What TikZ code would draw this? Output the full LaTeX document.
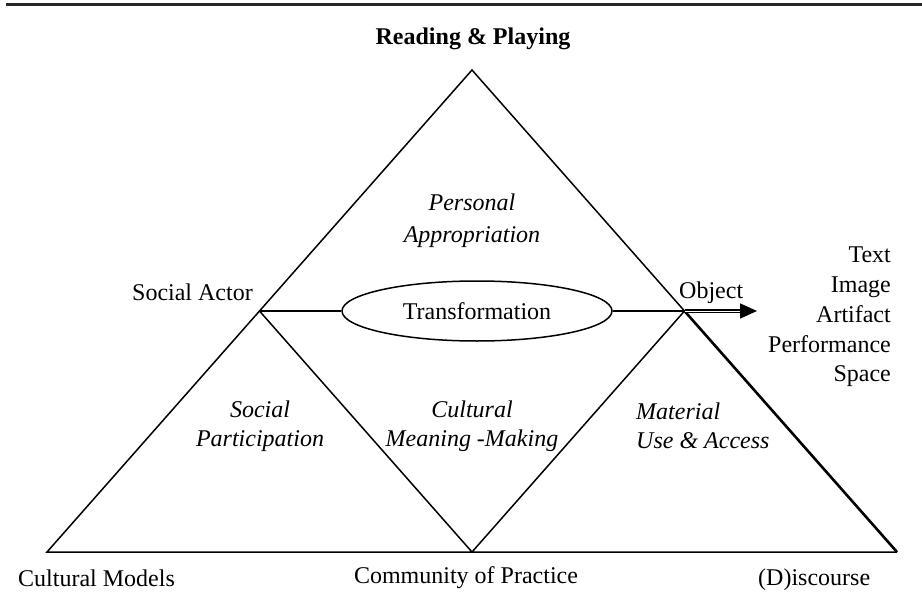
\documentclass[tikz,border=0pt]{standalone}
\usepackage{fontspec}
\setmainfont{Liberation Serif}
\usetikzlibrary{shapes,arrows.meta,positioning}
\tikzstyle{l1}=[line width=1.5pt]
\tikzstyle{l2}=[line width=2.6pt]
\tikzstyle{lbl}=[inner sep=0pt, font=\fontsize{24}{29.7}\selectfont]
\tikzstyle{ilbl}=[inner sep=0pt, align=center, font=\fontsize{24}{29}\selectfont\itshape]

\begin{document}
\begin{tikzpicture}[x=1pt, y=-1pt]
    \useasboundingbox (0,0) rectangle (922,610);
    \draw[line width=3pt, black!85] (6,5) -- (922,5);

    % corners of the big triangle and the side midpoints
    \coordinate (top) at (472,70);
    \coordinate (bl) at (47,552);
    \coordinate (br) at (897,552);
    \coordinate (bm) at (472,552);
    \coordinate (ml) at (259.5,311);
    \coordinate (mr) at (684.5,311);
    \coordinate (aend) at (757,311);

    \node[ellipse, draw, l1, minimum width=270, minimum height=60, lbl] (tr) at (477,311) {Transformation};

    \draw[l1] (ml) -- (top) -- (mr);
    \draw[l1] (mr) -- (bm) -- (ml) -- (bl) -- (br);
    \draw[l2] (mr) -- (br);
    \draw[l1] (ml) -- (tr) -- (mr);
    \draw[line width=1.6pt, double, double distance=0.7pt, -{Triangle[length=17pt,width=15pt]}] (mr) -- (aend);

    \node[lbl, font=\fontsize{24}{29}\selectfont\bfseries] (title) at (473,39) {Reading \& Playing};
    \node[ilbl, font=\fontsize{24}{32}\selectfont\itshape] (pers) at (472,221) {Personal\\Appropriation};
    \node[lbl, anchor=east] (actor) at (253,292) {Social Actor};
    \node[lbl, anchor=west] (obj) at (679,293) {Object};
    \node[lbl, anchor=east, align=right] (media) at (891,317) {Text\\Image\\Artifact\\Performance\\Space};

    \node[ilbl] (soc) at (260,426) {Social\\Participation};
    \node[ilbl] (cult) at (472,426) {Cultural\\Meaning -Making};
    \node[ilbl, align=left, anchor=west] (mat) at (636,426) {Material\\Use \& Access};

    \node[lbl, anchor=west] (cm) at (18,578) {Cultural Models};
    \node[lbl] (cop) at (466,578) {Community of Practice};
    \node[lbl, anchor=west] (disc) at (758,580) {(D)iscourse};
\end{tikzpicture}
\end{document}
